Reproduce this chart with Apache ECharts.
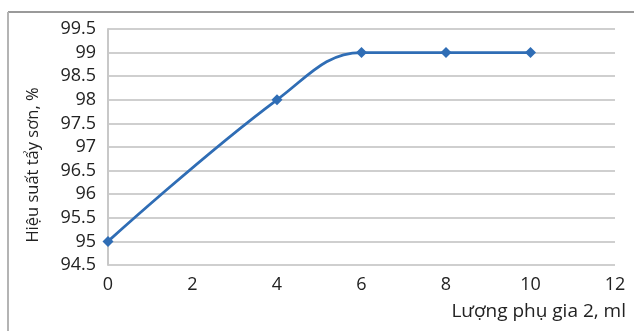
<!DOCTYPE html>
<html>
<head>
<meta charset="utf-8">
<script src="https://cdn.jsdelivr.net/npm/echarts@6/dist/echarts.min.js"></script>
<style>
  html, body { margin: 0; padding: 0; background: #ffffff; }
  #chart { width: 634px; height: 331px; }
</style>
</head>
<body>
<div id="chart"></div>
<script>
// Additive dose (ml) and paint-stripping efficiency (%)
const doses = [0, 4, 6, 8, 10];
const efficiency = [95, 98, 99, 99, 99];
const xTitle = 'Lượng phụ gia 2, ml';
const yTitle = 'Hiệu suất tẩy sơn, %';

const points = doses.map((d, i) => [d, efficiency[i]]);
const font = '"Open Sans", "Noto Sans", sans-serif';

const chart = echarts.init(document.getElementById('chart'));
chart.setOption({
  animation: false,
  backgroundColor: '#ffffff',
  graphic: [
    {
      type: 'line',
      shape: { x1: 8, y1: 12, x2: 640, y2: 12 },
      style: { stroke: '#9a9a9a', lineWidth: 2 },
      silent: true
    },
    {
      type: 'line',
      shape: { x1: 8, y1: 12, x2: 8, y2: 340 },
      style: { stroke: '#b4b4b4', lineWidth: 2 },
      silent: true
    }
  ],
  grid: { left: 108, right: 19, top: 29, bottom: 66 },
  xAxis: {
    type: 'value',
    min: 0, max: 12, interval: 2,
    name: xTitle,
    nameLocation: 'end',
    nameGap: 0,
    nameTextStyle: {
      fontFamily: font, fontSize: 19, color: '#222',
      align: 'right', verticalAlign: 'top', padding: [37, -11, 0, 0]
    },
    axisLine: { show: false },
    axisTick: { show: false },
    splitLine: { show: false },
    axisLabel: { fontFamily: font, fontSize: 18, color: '#222', margin: 11 }
  },
  yAxis: {
    type: 'value',
    min: 94.5, max: 99.5, interval: 0.5,
    name: yTitle,
    nameLocation: 'middle',
    nameGap: 66,
    nameRotate: 90,
    nameTextStyle: { fontFamily: font, fontSize: 16.5, color: '#222', padding: [0, 36, 0, 0] },
    axisLine: { show: true, lineStyle: { color: '#c8c8c8', width: 2 } },
    axisTick: { show: false },
    splitLine: { show: true, lineStyle: { color: '#cfcfcf', width: 2 } },
    axisLabel: {
      fontFamily: font, fontSize: 18, color: '#222', margin: 12,
      formatter: v => String(+v.toFixed(1))
    }
  },
  series: [{
    type: 'line',
    data: points,
    smooth: 0.4,
    symbol: 'diamond',
    symbolSize: 11,
    lineStyle: { color: '#2f6db5', width: 2.8 },
    itemStyle: { color: '#2f6db5' }
  }]
});
</script>
</body>
</html>
